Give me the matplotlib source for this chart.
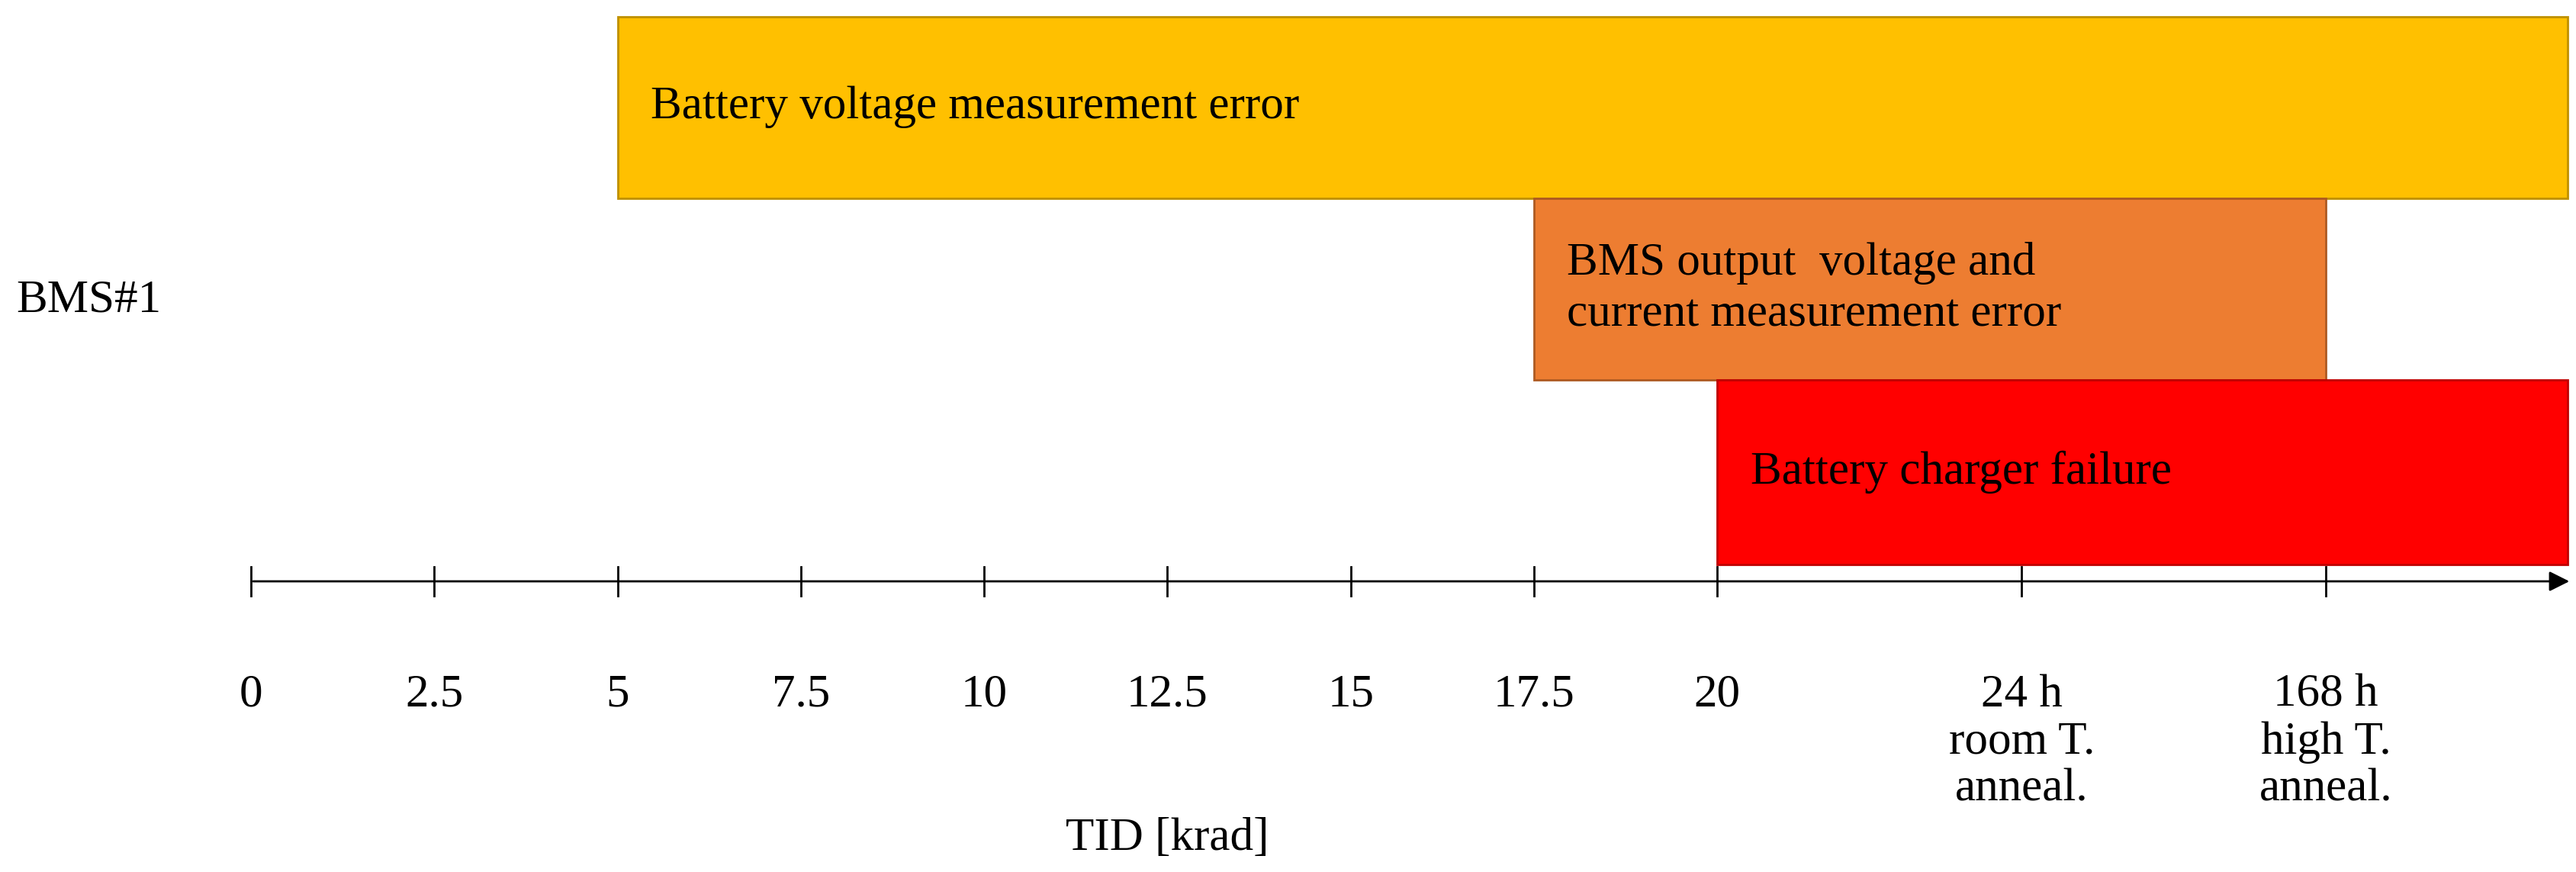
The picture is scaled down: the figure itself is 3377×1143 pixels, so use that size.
import matplotlib.pyplot as plt
from matplotlib.patches import Rectangle

plt.rcParams['font.family'] = ['Liberation Serif', 'DejaVu Serif']

labels = ['Battery voltage measurement error',
          'BMS output  voltage and\ncurrent measurement error',
          'Battery charger failure']
starts = [5, 17.5, 20]
ends = [31.6, 28.3, 31.6]
colors = ['#FFC000', '#ED7D31', '#FF0000']
edges = ['#BF9000', '#AE5A21', '#C00000']
ticks = [0, 2.5, 5, 7.5, 10, 12.5, 15, 17.5, 20, 24.15, 28.3]
tick_labels = ['0', '2.5', '5', '7.5', '10', '12.5', '15', '17.5', '20',
               '24 h\nroom T.\nanneal.', '168 h\nhigh T.\nanneal.']

FS = 44
fig = plt.figure(figsize=(33.77, 11.43), dpi=100)
ax = fig.add_axes([0, 0, 1, 1])
ax.set_xlim(-152 / 44.4, (1560 - 152) / 44.4)
ax.set_ylim(528, 0)
ax.axis('off')

# bars, y in display-ish units (0 top .. 528 bottom)
ys = [(10, 120), (120, 230), (230, 342)]
for (y0, y1), s, e, c, ec, lab in zip(ys, starts, ends, colors, edges, labels):
    ax.add_patch(Rectangle((s, y0), e - s, y1 - y0, facecolor=c, edgecolor=ec, lw=2))
    ax.text(s + 0.45, (y0 + y1) / 2, lab, fontsize=FS, va='center', ha='left',
            linespacing=1.3)

# axis
ax.annotate('', xy=(31.65, 352), xytext=(0, 352),
            arrowprops=dict(arrowstyle='-|>', color='black', lw=2, mutation_scale=40))
for t, tl in zip(ticks, tick_labels):
    ax.plot([t, t], [343, 361], color='black', lw=2)
    ax.text(t, 408, tl, fontsize=FS, ha='center', va='top', linespacing=1.15)

ax.text(-3.2, 182, 'BMS#1', fontsize=FS, ha='left', va='center')
ax.text(12.5, 508, 'TID [krad]', fontsize=FS, ha='center', va='center')

fig.savefig('out.png', dpi=100)
